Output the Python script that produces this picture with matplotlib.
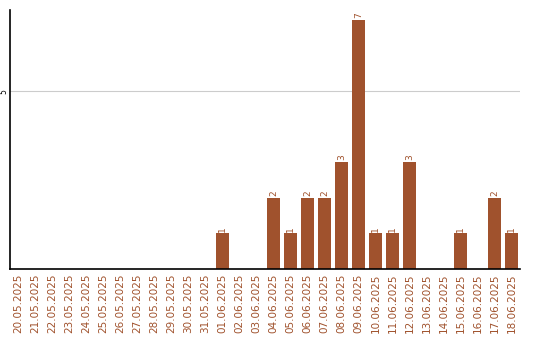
import matplotlib
matplotlib.use("Agg")
import matplotlib.pyplot as plt
import numpy as np

# data ========================================================
dates = ["20.05.2025", "21.05.2025", "22.05.2025", "23.05.2025", "24.05.2025",
         "25.05.2025", "26.05.2025", "27.05.2025", "28.05.2025", "29.05.2025",
         "30.05.2025", "31.05.2025", "01.06.2025", "02.06.2025", "03.06.2025",
         "04.06.2025", "05.06.2025", "06.06.2025", "07.06.2025", "08.06.2025",
         "09.06.2025", "10.06.2025", "11.06.2025", "12.06.2025", "13.06.2025",
         "14.06.2025", "15.06.2025", "16.06.2025", "17.06.2025", "18.06.2025"]
counts = [0, 0, 0, 0, 0, 0, 0, 0, 0, 0, 0, 0, 1, 0, 0,
          2, 1, 2, 2, 3, 7, 1, 1, 3, 0, 0, 1, 0, 2, 1]

color = "#A0522D"

fig = plt.figure(figsize=(5.4, 3.4), dpi=100)
ax = fig.add_axes([10 / 540, 71 / 340, 510 / 540, 259 / 340])

x = np.arange(len(dates))
ax.bar(x, counts, width=0.76, color=color, zorder=2)

# value labels above non-zero bars
for xi, v in zip(x, counts):
    if v > 0:
        ax.text(xi, v + 0.05, str(v), rotation=90, ha="center", va="bottom",
                fontsize=6.5, color=color)

ax.set_xlim(-0.5, len(dates) - 0.5)
ax.set_ylim(0, 7.28)
ax.set_xticks(x)
ax.set_xticklabels(dates, rotation=90, fontsize=7.5, color=color)
ax.set_yticks([5])
ax.set_yticklabels(["5"], rotation=90, va="center", fontsize=5.5)
ax.tick_params(axis="x", length=0, pad=3)
ax.tick_params(axis="y", length=0, pad=1)
ax.grid(axis="y", color="#cccccc", linewidth=0.8, zorder=0)
ax.spines["top"].set_visible(False)
ax.spines["right"].set_visible(False)
ax.spines["left"].set_linewidth(1.2)
ax.spines["bottom"].set_linewidth(1.2)

fig.savefig("out.png", dpi=100)
